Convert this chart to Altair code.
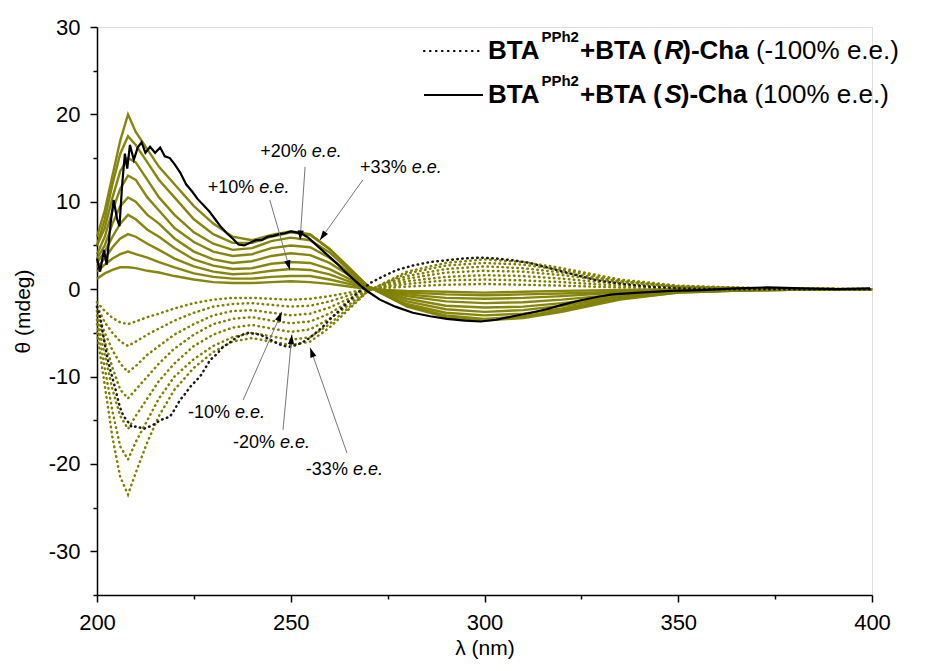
import math
import altair as alt
import pandas as pd

# ---------------------------------------------------------------- data
# common wavelength grid (nm) of the intermediate e.e. spectra
WAVELENGTH_GRID = [200, 202, 204, 206, 208, 210, 213, 216, 220, 225, 230, 235, 240,
                   245, 250, 255, 260, 265, 270, 280, 290, 300, 310, 320, 335, 350, 370, 400]

# positive e.e. spectra (solid olive), CD in mdeg on WAVELENGTH_GRID
POS_EE_1 = [6, 9, 13, 17, 20, 18, 16, 14, 12, 9.5, 7.5, 6, 5.6, 6.2, 6.6, 6.3, 4.6, 2.5, 0.3, -2, -3.2, -3.6, -3.3, -2.6, -1.2, -0.4, -0.1, 0]
POS_EE_2 = [5, 8, 12, 15.5, 17.5, 16.5, 14.5, 12.5, 10.5, 8, 6.3, 5.3, 5.3, 6, 6.5, 6.2, 4.6, 2.4, 0.3, -1.9, -3, -3.4, -3.1, -2.4, -1.1, -0.4, -0.1, 0]
POS_EE_3 = [5, 7, 10.5, 13.5, 15, 14.5, 12.5, 10.5, 8.5, 6.5, 5.2, 4.5, 4.7, 5.5, 5.9, 5.6, 4.2, 2.2, 0.3, -1.7, -2.7, -3, -2.8, -2.2, -1, -0.3, -0.1, 0]
POS_EE_4 = [4, 6, 9, 11.5, 13, 12.5, 10.5, 9, 7, 5.4, 4.3, 3.8, 4, 4.7, 5, 4.8, 3.6, 1.9, 0.3, -1.4, -2.3, -2.6, -2.4, -1.9, -0.9, -0.3, -0.1, 0]
POS_EE_5 = [3.5, 5, 7.5, 9.5, 10.5, 10, 8.5, 7.5, 5.8, 4.3, 3.4, 3, 3.2, 3.8, 4.1, 3.9, 3, 1.6, 0.3, -1.1, -1.9, -2.1, -2, -1.6, -0.8, -0.3, -0.1, 0]
POS_EE_6 = [3, 4.3, 6, 7.5, 8.5, 8, 6.8, 6, 4.7, 3.4, 2.7, 2.3, 2.4, 2.9, 3.1, 3, 2.3, 1.2, 0.2, -0.8, -1.4, -1.6, -1.5, -1.2, -0.6, -0.2, -0.1, 0]
POS_EE_7 = [2.5, 3.5, 4.8, 5.8, 6.3, 6, 5.2, 4.5, 3.5, 2.6, 2, 1.7, 1.8, 2.1, 2.3, 2.2, 1.7, 0.9, 0.2, -0.6, -1, -1.1, -1, -0.8, -0.4, -0.2, 0, 0]
POS_EE_8 = [2, 2.8, 3.5, 4, 4.3, 4, 3.6, 3.1, 2.5, 1.8, 1.4, 1.2, 1.2, 1.4, 1.5, 1.5, 1.1, 0.6, 0.1, -0.4, -0.6, -0.7, -0.6, -0.5, -0.3, -0.1, 0, 0]
POS_EE_9 = [1.2, 1.8, 2.2, 2.5, 2.5, 2.4, 2.1, 1.9, 1.5, 1.1, 0.8, 0.7, 0.7, 0.8, 0.9, 0.8, 0.6, 0.3, 0, -0.2, -0.3, -0.4, -0.3, -0.2, -0.1, 0, 0, 0]
POSITIVE_EE_CURVES = [POS_EE_1, POS_EE_2, POS_EE_3, POS_EE_4, POS_EE_5,
                      POS_EE_6, POS_EE_7, POS_EE_8, POS_EE_9]

# negative e.e. spectra (dotted olive), CD in mdeg on WAVELENGTH_GRID
NEG_EE_1 = [-5, -11, -17, -21.5, -23.5, -21, -17.5, -14.5, -11.5, -9, -7.2, -6, -5.6, -6, -6.4, -6, -4.4, -2.3, -0.2, 2, 3, 3.4, 3.1, 2.4, 1.1, 0.4, 0.1, 0]
NEG_EE_2 = [-4, -9, -14, -18, -19.5, -17.5, -15, -12.5, -10, -8, -6.5, -5.5, -5, -5.4, -5.8, -5.5, -4, -2.1, -0.2, 1.8, 2.7, 3, 2.8, 2.2, 1, 0.3, 0.1, 0]
NEG_EE_3 = [-3.5, -7.5, -11.5, -14.5, -16, -14.5, -12.5, -10.5, -8.5, -6.5, -5.2, -4.4, -4.1, -4.5, -4.9, -4.6, -3.4, -1.8, -0.1, 1.5, 2.3, 2.6, 2.4, 1.9, 0.9, 0.3, 0.1, 0]
NEG_EE_4 = [-3, -6, -9, -11.5, -12.5, -11.5, -10, -8.5, -6.8, -5.2, -4, -3.4, -3.2, -3.6, -3.9, -3.7, -2.8, -1.4, -0.1, 1.2, 1.9, 2.1, 2, 1.6, 0.8, 0.3, 0.1, 0]
NEG_EE_5 = [-2.5, -5, -7, -8.5, -9.5, -8.8, -7.5, -6.5, -5.2, -4, -3, -2.5, -2.4, -2.7, -3, -2.8, -2.1, -1.1, -0.1, 0.9, 1.4, 1.6, 1.5, 1.2, 0.6, 0.2, 0.1, 0]
NEG_EE_6 = [-2, -3.8, -5, -6, -6.5, -6, -5.2, -4.5, -3.6, -2.7, -2, -1.7, -1.6, -1.8, -2, -1.9, -1.4, -0.7, 0, 0.6, 1, 1.1, 1, 0.8, 0.4, 0.1, 0, 0]
NEG_EE_7 = [-1.5, -2.5, -3.3, -3.8, -4, -3.7, -3.2, -2.8, -2.2, -1.6, -1.2, -1, -1, -1.1, -1.2, -1.1, -0.8, -0.4, 0, 0.3, 0.5, 0.6, 0.5, 0.4, 0.2, 0.1, 0, 0]
NEGATIVE_EE_CURVES = [NEG_EE_1, NEG_EE_2, NEG_EE_3, NEG_EE_4, NEG_EE_5, NEG_EE_6, NEG_EE_7]

# BTA(PPh2)+BTA (S)-Cha, 100% e.e. (solid black): [nm, mdeg]
S_CHA_100 = [
    [200, 3.5], [200.8, 2.0], [201.8, 4.5], [202.5, 2.8], [203.5, 7.5], [204.3, 10.2],
    [205.2, 8.0], [205.8, 7.2], [206.5, 12.0], [207.2, 15.5], [207.8, 13.8], [208.5, 16.5],
    [209.5, 14.8], [210.5, 16.2], [211.5, 16.8], [212.5, 15.6], [213.7, 16.3], [215, 15.6],
    [216.3, 16.2], [217.5, 15.2], [218.8, 15.0], [220, 14.3], [221.4, 13.4], [223, 12.0],
    [224.5, 11.2], [226, 10.3], [227.5, 9.6], [229, 8.9], [230.5, 8.0], [232, 7.1],
    [233.5, 6.4], [235, 5.8], [236.5, 5.1], [238, 5.0], [239.5, 5.3], [241, 5.6],
    [242.5, 5.6], [244, 6.0], [245.5, 6.1], [247, 6.3], [248.5, 6.4], [250, 6.6],
    [251.5, 6.5], [253, 6.3], [254.5, 5.9], [256, 5.3], [258, 4.5], [260, 3.7],
    [262, 2.9], [264, 2.0], [266, 1.2], [268, 0.4], [270, -0.3], [273, -1.2],
    [277, -2.0], [281.5, -2.7], [286, -3.1], [290.3, -3.4], [295, -3.6], [299, -3.7],
    [303, -3.5], [307.4, -3.1], [312, -2.7], [316, -2.3], [320, -1.8], [324.6, -1.3],
    [329, -0.9], [333, -0.6], [340, -0.4], [348, -0.2], [356, -0.1], [365, 0.1],
    [373, 0.2], [382, 0.1], [391, 0.0], [399.5, 0.1],
]

# BTA(PPh2)+BTA (R)-Cha, -100% e.e. (dotted black): [nm, mdeg]
R_CHA_100 = [
    [200, -2.0], [200.8, -3.2], [201.5, -5.0], [202.5, -7.5], [203.4, -9.2], [204.5, -11.0],
    [205.9, -13.5], [206.8, -14.5], [207.7, -15.0], [209, -15.8], [210.3, -15.7], [212, -16.0],
    [213.7, -15.7], [215, -15.4], [216.3, -15.0], [217.5, -14.8], [218.8, -14.6], [220, -13.8],
    [221.4, -12.7], [222.7, -12.0], [224, -11.2], [225.3, -10.6], [226.6, -10.0], [228, -9.0],
    [229.2, -8.1], [231, -7.4], [232.5, -6.6], [234.3, -6.1], [236.1, -5.5], [238.7, -5.0],
    [240.5, -5.1], [242.1, -5.2], [244.3, -5.7], [246.5, -6.2], [248.2, -6.5], [249.8, -6.6],
    [252, -6.3], [254.2, -5.8], [256.2, -5.1], [258.3, -4.3], [260, -3.5], [261.9, -2.7],
    [263.6, -2.0], [265.3, -1.25], [267, -0.5], [268.8, 0.1], [270.5, 0.7], [274, 1.5],
    [277.4, 2.2], [281.5, 2.7], [285.9, 3.1], [290, 3.3], [294.5, 3.5], [299, 3.6],
    [303.2, 3.5], [307.5, 3.3], [311.7, 3.0], [316, 2.5], [320.3, 2.0], [324.6, 1.5],
    [329, 1.0], [335.7, 0.6], [342, 0.3], [350, 0.1], [360, 0.0], [375, 0.0],
    [390, 0.0], [400, 0.0],
]

X_DOMAIN = [200, 400]
Y_DOMAIN = [-35, 30]
X_TICK_VALUES = [200, 225, 250, 275, 300, 325, 350, 375, 400]
Y_TICK_VALUES = [-35, -30, -25, -20, -15, -10, -5, 0, 5, 10, 15, 20, 25, 30]

# annotations: label, label anchor (left, middle), arrow tail and tip
ANNOT_LABELS = ["+10%", "+20%", "+33%", "-10%", "-20%", "-33%"]
ANNOT_NM = [228.6, 242.1, 267.9, 223.5, 235.1, 253.9]
ANNOT_CD = [11.6, 15.7, 13.9, -14.2, -17.6, -20.7]
ARROW_TAIL_NM = [244.6, 253.7, 268.6, 237.7, 248.0, 264.5]
ARROW_TAIL_CD = [10.2, 14.0, 12.5, -12.7, -16.1, -18.75]
ARROW_TIP_NM = [249.8, 252.4, 257.5, 247.7, 250.3, 255.0]
ARROW_TIP_CD = [2.2, 5.6, 5.6, -2.6, -5.2, -6.7]

LEGEND_ROWS = [
    {"dash": True, "chir": "R", "tail": "(-100% e.e.)"},
    {"dash": False, "chir": "S", "tail": "(100% e.e.)"},
]

# ---------------------------------------------------------------- style
OLIVE = "#808000"
FONT = "Liberation Sans"
W, H = 775, 568
PX_PER_NM = W / (X_DOMAIN[1] - X_DOMAIN[0])
PX_PER_CD = H / (Y_DOMAIN[1] - Y_DOMAIN[0])

REG = {' ': 278, '(': 333, ')': 333, '-': 333, '+': 584, '%': 889, 'e': 556, '.': 278,
       '0': 556, '1': 556, '2': 556, '3': 556}
BOLD = {'B': 722, 'T': 611, 'A': 722, 'P': 667, 'h': 611, '2': 556, '+': 584, ' ': 278,
        '(': 333, ')': 333, 'R': 722, 'S': 667, '-': 333, 'C': 722, 'a': 556}


def tw(s, table, size):
    return sum(table[c] for c in s) * size / 1000.0


# ---------------------------------------------------------------- frames
rows = []
for k, curve in enumerate(POSITIVE_EE_CURVES):
    for i, (nm, cd) in enumerate(zip(WAVELENGTH_GRID, curve)):
        rows.append({"nm": nm, "cd": cd, "series": f"p{k}", "i": i})
pos_df = pd.DataFrame(rows)

rows = []
for k, curve in enumerate(NEGATIVE_EE_CURVES):
    for i, (nm, cd) in enumerate(zip(WAVELENGTH_GRID, curve)):
        rows.append({"nm": nm, "cd": cd, "series": f"n{k}", "i": i})
neg_df = pd.DataFrame(rows)

s_df = pd.DataFrame([{"nm": a, "cd": b, "i": i} for i, (a, b) in enumerate(S_CHA_100)])
r_df = pd.DataFrame([{"nm": a, "cd": b, "i": i} for i, (a, b) in enumerate(R_CHA_100)])

x_axis = alt.Axis(
    values=X_TICK_VALUES,
    labelExpr="datum.value % 50 === 0 ? '' + datum.value : ''",
    tickSize={"condition": {"test": "datum.value % 50 === 0", "value": 7}, "value": 4},
    grid=False, domainColor="black", domainWidth=1.5, tickColor="black", tickWidth=1.5,
    labelFont=FONT, labelFontSize=22, labelColor="black", labelPadding=10,
    labelFlush=False, labelOverlap=False,
    title="λ (nm)", titleFont=FONT, titleFontSize=21, titleFontWeight="normal",
    titleColor="black", titlePadding=4,
)
y_axis = alt.Axis(
    values=Y_TICK_VALUES,
    labelExpr="datum.value % 10 === 0 ? '' + datum.value : ''",
    tickSize={"condition": {"test": "datum.value % 10 === 0", "value": 7}, "value": 4},
    grid=False, domainColor="black", domainWidth=1.5, tickColor="black", tickWidth=1.5,
    labelFont=FONT, labelFontSize=22, labelColor="black", labelPadding=10,
    labelFlush=False, labelOverlap=False,
    title="θ (mdeg)", titleFont=FONT, titleFontSize=21, titleFontWeight="normal",
    titleColor="black", titlePadding=15,
)
X = alt.X("nm:Q", scale=alt.Scale(domain=X_DOMAIN, nice=False, zero=False), axis=x_axis)
Y = alt.Y("cd:Q", scale=alt.Scale(domain=Y_DOMAIN, nice=False, zero=False), axis=y_axis)
Xn = alt.X("nm:Q")
Yn = alt.Y("cd:Q")

DOT = dict(strokeDash=[0.5, 4.5], strokeCap="round", strokeWidth=2.5)

neg_layer = alt.Chart(neg_df).mark_line(color=OLIVE, **DOT).encode(
    x=X, y=Y, detail="series:N", order="i:Q")
pos_layer = alt.Chart(pos_df).mark_line(color=OLIVE, strokeWidth=2.4, opacity=0.95).encode(
    x=Xn, y=Yn, detail="series:N", order="i:Q")
r_layer = alt.Chart(r_df).mark_line(color="#1a1a1a", **DOT).encode(x=Xn, y=Yn, order="i:Q")
s_layer = alt.Chart(s_df).mark_line(color="black", strokeWidth=2.2).encode(x=Xn, y=Yn, order="i:Q")

# annotations
AFS = 18
ann = []
for lab, xn, yc, tn, tc, hn, hc in zip(ANNOT_LABELS, ANNOT_NM, ANNOT_CD, ARROW_TAIL_NM,
                                      ARROW_TAIL_CD, ARROW_TIP_NM, ARROW_TIP_CD):
    ee_nm = xn + tw(lab + " ", REG, AFS) / PX_PER_NM
    dxs = (hn - tn) * PX_PER_NM
    dys = -(hc - tc) * PX_PER_CD
    ang = (math.degrees(math.atan2(dxs, -dys)) + 360) % 360
    ann.append({"lab": lab, "nm": xn, "cd": yc, "ee_nm": ee_nm, "ee": "e.e.",
                "tn": tn, "tc": tc, "hn": hn, "hc": hc, "ang": ang})
ann_df = pd.DataFrame(ann)

arrow_lines = alt.Chart(ann_df).mark_rule(color="#777777", strokeWidth=1).encode(
    x=alt.X("tn:Q"), y=alt.Y("tc:Q"), x2="hn:Q", y2="hc:Q")
arrow_heads = alt.Chart(ann_df).mark_point(
    shape="M0,0 L-0.32,1 L0.32,1 Z", filled=True, color="black", opacity=1, size=380,
    strokeWidth=0).encode(
    x=alt.X("hn:Q"), y=alt.Y("hc:Q"), angle=alt.Angle("ang:Q", scale=None))
ann_num = alt.Chart(ann_df).mark_text(
    font=FONT, fontSize=AFS, align="left", baseline="middle", color="black").encode(
    x=alt.X("nm:Q"), y=alt.Y("cd:Q"), text="lab:N")
ann_ee = alt.Chart(ann_df).mark_text(
    font=FONT, fontSize=AFS, fontStyle="italic", align="left", baseline="middle",
    color="black").encode(x=alt.X("ee_nm:Q"), y=alt.Y("cd:Q"), text="ee:N")

# legend (pixel positions relative to the plot area)
F, FS = 26, 15
LX_LINE0, LX_LINE1, LX_TEXT = 327, 386, 391
LY = [32, 76]
legend_layers = []
one = pd.DataFrame({"k": [0]})
for row, ly in zip(LEGEND_ROWS, LY):
    if row["dash"]:
        legend_layers.append(alt.Chart(one).mark_rule(
            color="black", strokeDash=[0.5, 5.5], strokeCap="round", strokeWidth=2.2).encode(
            x=alt.value(LX_LINE0), x2=alt.value(LX_LINE1), y=alt.value(ly - 8)))
    else:
        legend_layers.append(alt.Chart(one).mark_rule(color="black", strokeWidth=2.2).encode(
            x=alt.value(LX_LINE0), x2=alt.value(LX_LINE1), y=alt.value(ly - 8)))
    segs = [("BTA", "bold", "normal", F, 0, BOLD, 0),
            ("PPh2", "bold", "normal", FS, -17, BOLD, 1),
            ("+BTA (", "bold", "normal", F, 0, BOLD, 0),
            (row["chir"], "bold", "italic", F, 0, BOLD, -1),
            (")-Cha", "bold", "normal", F, 0, BOLD, 0),
            (row["tail"], "normal", "normal", F, 0, REG, 0)]
    x = LX_TEXT
    for idx, (txt, wgt, sty, size, rise, table, adj) in enumerate(segs):
        if idx == len(segs) - 1:
            x += tw(" ", REG, size)
        legend_layers.append(alt.Chart(pd.DataFrame({"t": [txt]})).mark_text(
            font=FONT, fontSize=size, fontWeight=wgt, fontStyle=sty, align="left",
            baseline="alphabetic", color="black").encode(
            x=alt.value(x), y=alt.value(ly + rise), text="t:N"))
        x += tw(txt, table, size) + adj

chart = alt.layer(
    neg_layer, pos_layer, r_layer, s_layer,
    arrow_lines, arrow_heads, ann_num, ann_ee,
    *legend_layers,
).properties(
    width=W, height=H,
    padding={"left": 89, "top": 19, "right": 60, "bottom": 68},
    autosize=alt.AutoSizeParams(type="none"),
).configure_view(stroke=None).configure(font=FONT, background="white")

chart.save("out.html", embed_options={"renderer": "svg", "actions": False})
